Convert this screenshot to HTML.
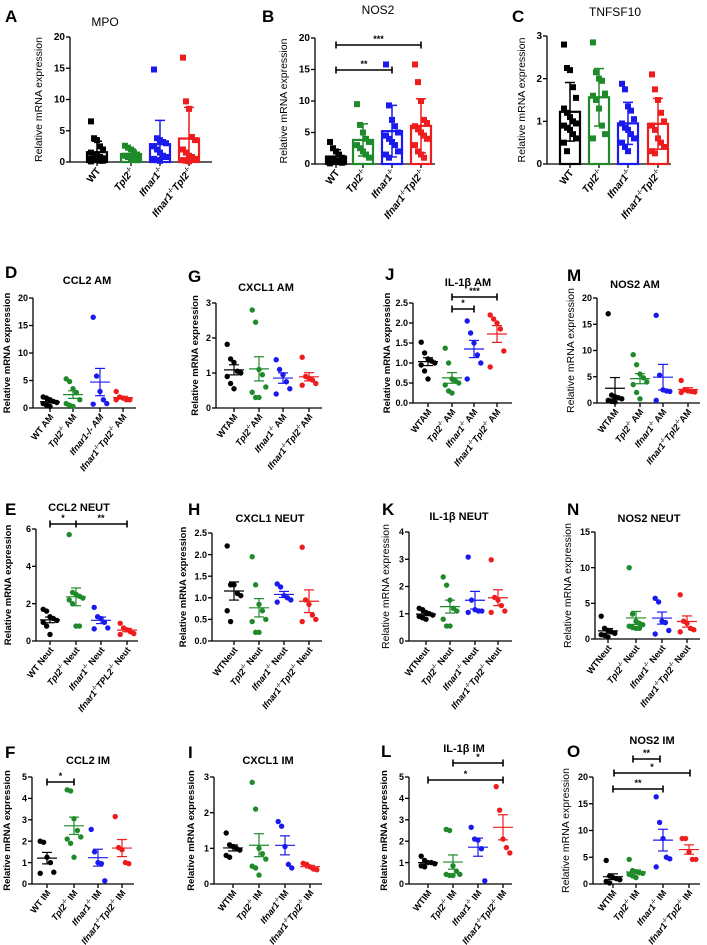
<!DOCTYPE html>
<html><head><meta charset="utf-8">
<style>
html,body{margin:0;padding:0;background:#fff;}
svg{display:block;font-family:"Liberation Sans",sans-serif;}
</style></head>
<body>
<svg id="fig" width="707" height="945" viewBox="0 0 707 945" xmlns="http://www.w3.org/2000/svg">
<rect width="707" height="945" fill="#fff"/>
</svg>
<script>
// ---- data ----
const mpo = [[6.5,3.8,3.5,2.5,2,1.5,1.2,1,0.8,0.6,0.5,0.4,0.3,0.2,0.2,0.1],
             [2.6,2.3,2,1.5,1.2,1,0.8,0.6,0.5,0.3],
             [14.8,3.8,3.5,3.2,3,2.5,2,1.5,1,0.8,0.5,0.3,0.2],
             [16.7,9.7,8.5,4,3.5,2,1.5,1,0.8,0.5,0.3,0.2,0.1]];
const nos2 = [[3.5,2.5,2,1.5,1,0.8,0.6,0.5,0.3,0.2,0.1],
              [9.5,6.2,5,4,3.5,3,2.5,2,1.5,1],
              [15.8,9.3,7,6,5,4.5,4,3.5,3,2,1.5,1],
              [15.8,13,10,7,6.5,6,5.5,5,4.5,4,3,2,1.5,1]];
const tnfsf10 = [[2.8,2.25,2.2,1.8,1.55,1.3,1.2,1.1,1,0.95,0.9,0.85,0.8,0.7,0.6,0.5,0.3],
                 [2.85,2.15,2,1.95,1.65,1.6,1.5,1.3,0.9,0.7,0.6],
                 [1.88,1.75,1.35,1.25,1.05,0.95,0.85,0.8,0.7,0.6,0.5,0.4,0.3],
                 [2.1,1.75,1.5,1.2,1,0.9,0.8,0.6,0.5,0.4,0.3,0.25]];
const ccl2AM = [[2,1.8,1.5,1.2,1,0.8,0.5,0.3],[5.3,4.8,3.5,2.8,1.5,0.8,0.5,0.3],[16.5,5.8,3,1.5,0.8,0.7],[3,2,1.8,1.5,1.5,1.5]];
const cxcl1AM = [[1.82,1.4,1.3,1.05,1,0.9,0.7,0.55],[2.8,2.45,1.1,0.95,0.6,0.45,0.3,0.3],[1.38,1.1,0.95,0.75,0.55,0.4],[1.45,0.9,0.85,0.8,0.7,0.65]];
const il1bAM = [[1.52,1.25,1.1,1.05,1.0,0.95,0.8,0.6],[1.37,1.0,0.6,0.55,0.5,0.45,0.3,0.25],[2.05,1.75,1.5,1.2,1.0,0.6],[2.2,2.1,2.0,1.85,1.3,0.9]];
const nos2AM = [[17,1.5,1.2,1,0.8,0.5,0.3,0.2],[9.2,7.3,5.5,4.8,4,3.5,2,0.8],[16.7,5.3,2.5,2.3,2.2,0.5],[4.3,2.5,2.3,2.2,2.1,2]];
const ccl2Neut = [[1.7,1.6,1.3,1.2,1.1,1.0,0.8,0.35],[5.7,2.6,2.5,2.4,2.3,2.2,2.0,0.8,0.8],[1.8,1.3,1.2,1.0,0.7,0.65],[0.95,0.7,0.6,0.5,0.4,0.35]];
const cxcl1Neut = [[2.2,1.3,1.3,1.1,1.05,0.7,0.45],[1.95,1.3,0.85,0.7,0.5,0.45,0.2,0.2],[1.32,1.25,1.05,1.0,0.95,0.9],[2.17,0.95,0.85,0.6,0.5,0.45]];
const il1bNeut = [[1.2,1.15,1.05,1.0,0.95,0.9,0.85,0.8],[2.35,2.05,1.5,1.2,1.1,0.8,0.55,0.55],[3.08,1.5,1.15,1.1,1.1,1.05],[2.98,1.6,1.5,1.3,1.1,1.05]];
const nos2Neut = [[3.2,1.5,1.2,1,0.8,0.6,0.5,0.3],[10,3.5,2.5,2.2,2,1.8,1.6,1.5,1.5],[5.7,5.2,2.5,2.3,1.2,0.7],[6.2,2.5,2.2,1.5,1.3,1.0]];
const ccl2IM = [[2.0,1.95,1.25,1.0,0.55,0.5],[4.4,4.35,3.05,2.5,2.2,2.1,1.9,1.25],[2.55,1.5,1.0,0.95,0.15],[3.15,1.7,1.6,1.0,0.95]];
const cxcl1IM = [[1.43,1.1,1.05,1.0,0.95,0.8,0.75],[2.85,2.1,1.0,0.85,0.7,0.5,0.45,0.25],[1.75,1.62,1.05,0.55,0.45],[0.58,0.55,0.48,0.42,0.4]];
const il1bIM = [[1.3,1.1,1.0,1.0,0.95,0.85,0.8],[2.55,2.5,0.85,0.6,0.45,0.45,0.4,0.4],[2.65,2.1,2.05,1.65,0.15],[4.55,3.45,2.1,1.7,1.45]];
const nos2IM = [[4.4,1.5,1.2,1.0,0.8,0.5,0.2],[4.6,2.5,2.3,2.1,2.0,1.8,1.5,1.2],[16.3,11.5,8.5,5,4.7,3.2],[8.5,8.5,6,4.6,4.6]];
const ticks20 = [0,5,10,15,20];
const ticks3 = [0,1,2,3];
const ticks25 = [0,0.5,1.0,1.5,2.0,2.5];
const ticks6 = [0,2,4,6];
const ticks4 = [0,1,2,3,4];
const ticks15 = [0,5,10,15];
const ticks5 = [0,1,2,3,4,5];

const COLORS = ['#000000','#1f8a2a','#1a1aee','#ee1c1c'];
const NS = 'http://www.w3.org/2000/svg';
const svg = document.getElementById('fig');
function mk(tag, attrs, parent){
  const e = document.createElementNS(NS, tag);
  for (const k in attrs) e.setAttribute(k, attrs[k]);
  (parent||svg).appendChild(e);
  return e;
}
function mean(a){return a.reduce((s,v)=>s+v,0)/a.length;}
function sd(a){const m=mean(a);return Math.sqrt(a.reduce((s,v)=>s+(v-m)*(v-m),0)/(a.length-1));}
function sem(a){return sd(a)/Math.sqrt(a.length);}

// label spec: array of [text, style] ; style: n normal, i italic, s superscript
function lab(kind, suffix){
  if (kind==='WT') return [['WT'+suffix,'n']];
  if (kind==='T') return [['Tpl2','i'],['-/-','s'],[suffix,'n']];
  if (kind==='I') return [['Ifnar1','i'],['-/-','s'],[suffix,'n']];
  if (kind==='IT') return [['Ifnar1','i'],['-/-','s'],['Tpl2','i'],['-/-','s'],[suffix,'n']];
  if (kind==='ITL') return [['Ifnar1','i'],['-/-','s'],['TPL2','i'],['-/-','s'],[suffix,'n']];
}

function panel(p){
  const g = mk('g', {});
  
  
  const ymap = v => p.y0 - (v/p.ymax)*(p.y0-p.yTop);
  // letter
  const L = mk('text', {x:p.lx, y:p.ly, 'font-size':17, 'font-weight':'bold', fill:'#000'}, g);
  L.textContent = p.letter;
  
  
  // title
  const T = mk('text', {x:p.tx, y:p.ty, 'font-size':p.bold?11:12, 'font-weight':p.bold?'bold':'normal', 'text-anchor':'middle', fill:'#000'}, g);
  T.textContent = p.title;
  
  
  // axes
  const ax = mk('g', {stroke:'#000','stroke-width':1.3}, g);
  
  
  mk('line',{x1:p.ax,y1:p.yTop,x2:p.ax,y2:p.y0},ax);
  mk('line',{x1:p.ax,y1:p.y0,x2:p.axEnd,y2:p.y0},ax);
  p.ticks.forEach(t=>{
    const y = ymap(t);
    mk('line',{x1:p.ax-4,y1:y,x2:p.ax,y2:y},ax);
    const tl = mk('text',{x:p.ax-5,y:y+3.2,'font-size':p.bold?9:10,'font-weight':'bold','text-anchor':'end',fill:'#000',stroke:'none'},g);
    tl.textContent = p.tickFmt ? t.toFixed(1) : String(t);
    
    
  });
  p.cx.forEach(x=>mk('line',{x1:x,y1:p.y0,x2:x,y2:p.y0+4},ax));
  // y title
  const yc = (p.yTop+p.y0)/2, ytx = p.ax-(p.ytOff||25);
  const YT = mk('text',{x:ytx,y:yc,'font-size':p.ytBold?9.5:10.5,'font-weight':p.ytBold?'bold':'normal','text-anchor':'middle',transform:`rotate(-90 ${ytx} ${yc})`,fill:'#000'},g);
  YT.textContent = 'Relative mRNA expression';
  
  
  // x labels
  p.labels.forEach((spec,i)=>{
    const x = p.cx[i]+4, y = p.y0+9;
    const t = mk('text',{x:x,y:y,'font-size':p.bold?9:10,'font-weight':'bold','text-anchor':'end',transform:`rotate(-52 ${x} ${y})`,fill:'#000'},g);
    
    
    spec.forEach(([txt,st])=>{
      const ts = mk('tspan',{},t);
      if (st==='i') ts.setAttribute('font-style','italic');
      if (st==='s'){ ts.setAttribute('font-size', p.bold?5.5:6); ts.setAttribute('dy','-4'); }
      else if (t.childNodes.length>1 && t.childNodes[t.childNodes.length-2].getAttribute('dy')==='-4') ts.setAttribute('dy','4');
      ts.textContent = txt;
    });
  });
  // series
  p.data.forEach((arr,gi)=>{
    const col = COLORS[gi], cx = p.cx[gi];
    const sg = mk('g',{},g);
    
    
    const m = mean(arr);
    if (p.type==='bar'){
      const e = sd(arr);
      const bw = 20;
      const bar = mk('rect',{x:cx-bw/2,y:ymap(m),width:bw,height:p.y0-ymap(m),fill:'none',stroke:col,'stroke-width':2.2},sg);
      
      
      arr.forEach((v,i)=>{
        const dx = ((i%5)-2)*3;
        const sq = mk('rect',{x:cx+dx-3,y:ymap(v)-3,width:6,height:6,fill:col},sg);
        
        
      });
      const eb = mk('g',{stroke:col,'stroke-width':1.5},sg);
      
      
      const lo = Math.max(0,m-e);
      mk('line',{x1:cx,y1:ymap(lo),x2:cx,y2:ymap(m+e)},eb);
      mk('line',{x1:cx-5,y1:ymap(m+e),x2:cx+5,y2:ymap(m+e)},eb);
      mk('line',{x1:cx-5,y1:ymap(lo),x2:cx+5,y2:ymap(lo)},eb);
    } else {
      const e = sem(arr);
      arr.forEach((v,i)=>{
        const dx = ((i%5)-2)*3.4;
        const c = mk('circle',{cx:cx+dx,cy:ymap(v),r:2.7,fill:col},sg);
        
        
      });
      const eb = mk('g',{stroke:col,'stroke-width':1.2},sg);
      
      
      mk('line',{x1:cx-10,y1:ymap(m),x2:cx+10,y2:ymap(m)},eb);
      mk('line',{x1:cx,y1:ymap(m-e),x2:cx,y2:ymap(m+e)},eb);
      mk('line',{x1:cx-5,y1:ymap(m+e),x2:cx+5,y2:ymap(m+e)},eb);
      mk('line',{x1:cx-5,y1:ymap(m-e),x2:cx+5,y2:ymap(m-e)},eb);
    }
  });
  // significance bars
  (p.sig||[]).forEach(s=>{
    const sb = mk('g',{stroke:'#000','stroke-width':1.6},g);
    
    
    mk('line',{x1:s[0],y1:s[2],x2:s[1],y2:s[2]},sb);
    mk('line',{x1:s[0],y1:s[2]-3.5,x2:s[0],y2:s[2]+3.5},sb);
    mk('line',{x1:s[1],y1:s[2]-3.5,x2:s[1],y2:s[2]+3.5},sb);
    if (s[4]) mk('line',{x1:s[4],y1:s[2]-3.5,x2:s[4],y2:s[2]+3.5},sb);
    const st = mk('text',{x:(s[5]||(s[0]+s[1])/2),y:s[2]-3,'font-size':9,'font-weight':'bold','text-anchor':'middle',fill:'#000',stroke:'none'},sb);
    st.textContent = s[3];
    if (s[6]){
      const st2 = mk('text',{x:s[7],y:s[2]-3,'font-size':9,'font-weight':'bold','text-anchor':'middle',fill:'#000',stroke:'none'},sb);
      st2.textContent = s[6];
    }
  });
}

const topLab = [lab('WT',''),lab('T',''),lab('I',''),lab('IT','')];
function labs(sfx, wtSep, third){
  return [lab('WT',(wtSep?' ':'')+sfx), lab('T',' '+sfx), lab('I',' '+sfx), lab(third||'IT',' '+sfx)];
}

panel({name:'panel-a-mpo',letter:'A',lx:5,ly:22,title:'MPO',tx:105,ty:26,bold:false,ax:70,axEnd:212,yTop:37,y0:162,ymax:20,ticks:ticks20,cx:[97,131,160,189],type:'bar',data:mpo,labels:topLab,ytOff:28});
panel({name:'panel-b-nos2',letter:'B',lx:262,ly:22,title:'NOS2',tx:378,ty:14,bold:false,ax:315,axEnd:435,yTop:38,y0:164,ymax:20,ticks:ticks20,cx:[336,363,392,421],type:'bar',data:nos2,labels:topLab,ytOff:28,
  sig:[[336,421,45,'***'],[336,392,70,'**']]});
panel({name:'panel-c-tnfsf10',letter:'C',lx:512,ly:22,title:'TNFSF10',tx:615,ty:16,bold:false,ax:547,axEnd:671,yTop:36,y0:164,ymax:3,ticks:ticks3,cx:[570,599,628,658],type:'bar',data:tnfsf10,labels:topLab,ytOff:22});

panel({name:'panel-d-ccl2-am',letter:'D',lx:5,ly:278,title:'CCL2 AM',tx:87,ty:284,bold:true,ax:33,axEnd:136,yTop:298,y0:408,ymax:20,ticks:ticks20,cx:[50,73,100,123],type:'dot',data:ccl2AM,labels:[lab('WT',' AM'),lab('T',' AM'),[['Ifnar1-/- AM','i']],lab('IT',' AM')],ytBold:true,ytOff:23});
panel({name:'panel-g-cxcl1-am',letter:'G',lx:188,ly:282,title:'CXCL1 AM',tx:266,ty:291,bold:true,ax:216,axEnd:322,yTop:303,y0:408,ymax:3,ticks:ticks3,cx:[234,259,283,309],type:'dot',data:cxcl1AM,labels:[lab('WT','AM'),lab('T','AM'),lab('I',' AM'),lab('IT','AM')],ytBold:true,ytOff:18});
panel({name:'panel-j-il1b-am',letter:'J',lx:385,ly:280,title:'IL-1β AM',tx:468,ty:286,bold:true,ax:413,axEnd:512,yTop:303,y0:403,ymax:2.5,ticks:ticks25,tickFmt:true,cx:[428,452,474,497],type:'dot',data:il1bAM,labels:[lab('WT','AM'),lab('T',' AM'),lab('I',' AM'),lab('IT',' AM')],ytBold:true,ytOff:23,
  sig:[[452,497,297,'***'],[452,474,309,'*']]});
panel({name:'panel-m-nos2-am',letter:'M',lx:567,ly:281,title:'NOS2 AM',tx:635,ty:288,bold:true,ax:597,axEnd:700,yTop:298,y0:403,ymax:20,ticks:ticks20,cx:[615,640,663,688],type:'dot',data:nos2AM,labels:[lab('WT','AM'),lab('T',' AM'),lab('I',' AM'),lab('IT','AM')],ytOff:23});

panel({name:'panel-e-ccl2-neut',letter:'E',lx:5,ly:515,title:'CCL2 NEUT',tx:79,ty:511,bold:true,ax:36,axEnd:138,yTop:529,y0:641,ymax:6,ticks:ticks6,cx:[50,76,101,127],type:'dot',data:ccl2Neut,labels:[lab('WT',' Neut'),lab('T',' Neut'),lab('I',' Neut'),lab('ITL',' Neut')],ytBold:true,ytOff:25,
  sig:[[50,127,524,'*',76,63,'**',101]]});
panel({name:'panel-h-cxcl1-neut',letter:'H',lx:188,ly:515,title:'CXCL1 NEUT',tx:270,ty:522,bold:true,ax:212,axEnd:322,yTop:533,y0:641,ymax:2.5,ticks:ticks25,tickFmt:true,cx:[234,259,284,309],type:'dot',data:cxcl1Neut,labels:[lab('WT','Neut'),lab('T',' Neut'),lab('I',' Neut'),lab('IT',' Neut')],ytBold:true,ytOff:26});
panel({name:'panel-k-il1b-neut',letter:'K',lx:382,ly:515,title:'IL-1β NEUT',tx:459,ty:520,bold:true,ax:409,axEnd:512,yTop:532,y0:641,ymax:4,ticks:ticks4,cx:[426,450,475,498],type:'dot',data:il1bNeut,labels:[lab('WT','Neut'),lab('T',' Neut'),lab('I',' Neut'),lab('IT',' Neut')],ytOff:20});
panel({name:'panel-n-nos2-neut',letter:'N',lx:567,ly:515,title:'NOS2  NEUT',tx:649,ty:522,bold:true,ax:595,axEnd:700,yTop:532,y0:639,ymax:15,ticks:ticks15,cx:[608,636,662,687],type:'dot',data:nos2Neut,labels:[lab('WT','Neut'),lab('T',' Neut'),lab('I',' Neut'),lab('IT',' Neut')],ytOff:24});

panel({name:'panel-f-ccl2-im',letter:'F',lx:5,ly:758,title:'CCL2 IM',tx:88,ty:764,bold:true,ax:32,axEnd:134,yTop:777,y0:884,ymax:5,ticks:ticks5,cx:[47,74,98,122],type:'dot',data:ccl2IM,labels:[lab('WT',' IM'),lab('T',' IM'),lab('I',' IM'),lab('IT',' IM')],ytBold:true,ytOff:22,
  sig:[[47,74,782,'*']]});
panel({name:'panel-i-cxcl1-im',letter:'I',lx:188,ly:758,title:'CXCL1 IM',tx:268,ty:764,bold:true,ax:214,axEnd:322,yTop:777,y0:884,ymax:3,ticks:ticks3,cx:[233,259,285,310],type:'dot',data:cxcl1IM,labels:[lab('WT','IM'),lab('T',' IM'),lab('I','IM'),lab('IT',' IM')],ytBold:true,ytOff:20});
panel({name:'panel-l-il1b-im',letter:'L',lx:381,ly:757,title:'IL-1β IM',tx:464,ty:752,bold:true,ax:409,axEnd:512,yTop:777,y0:884,ymax:5,ticks:ticks5,cx:[428,453,478,503],type:'dot',data:il1bIM,labels:[lab('WT','IM'),lab('T',' IM'),lab('I',' IM'),lab('IT',' IM')],ytBold:true,ytOff:22,
  sig:[[453,503,763,'*'],[428,503,780,'*']]});
panel({name:'panel-o-nos2-im',letter:'O',lx:567,ly:757,title:'NOS2 IM',tx:652,ty:744,bold:true,ax:593,axEnd:700,yTop:777,y0:884,ymax:20,ticks:ticks20,cx:[613,636,663,689],type:'dot',data:nos2IM,labels:[lab('WT','IM'),lab('T',' IM'),lab('I',' IM'),lab('IT',' IM')],ytOff:24,
  sig:[[633,660,759,'**'],[614,690,773,'*'],[613,663,789,'**']]});
</script>
</body></html>
